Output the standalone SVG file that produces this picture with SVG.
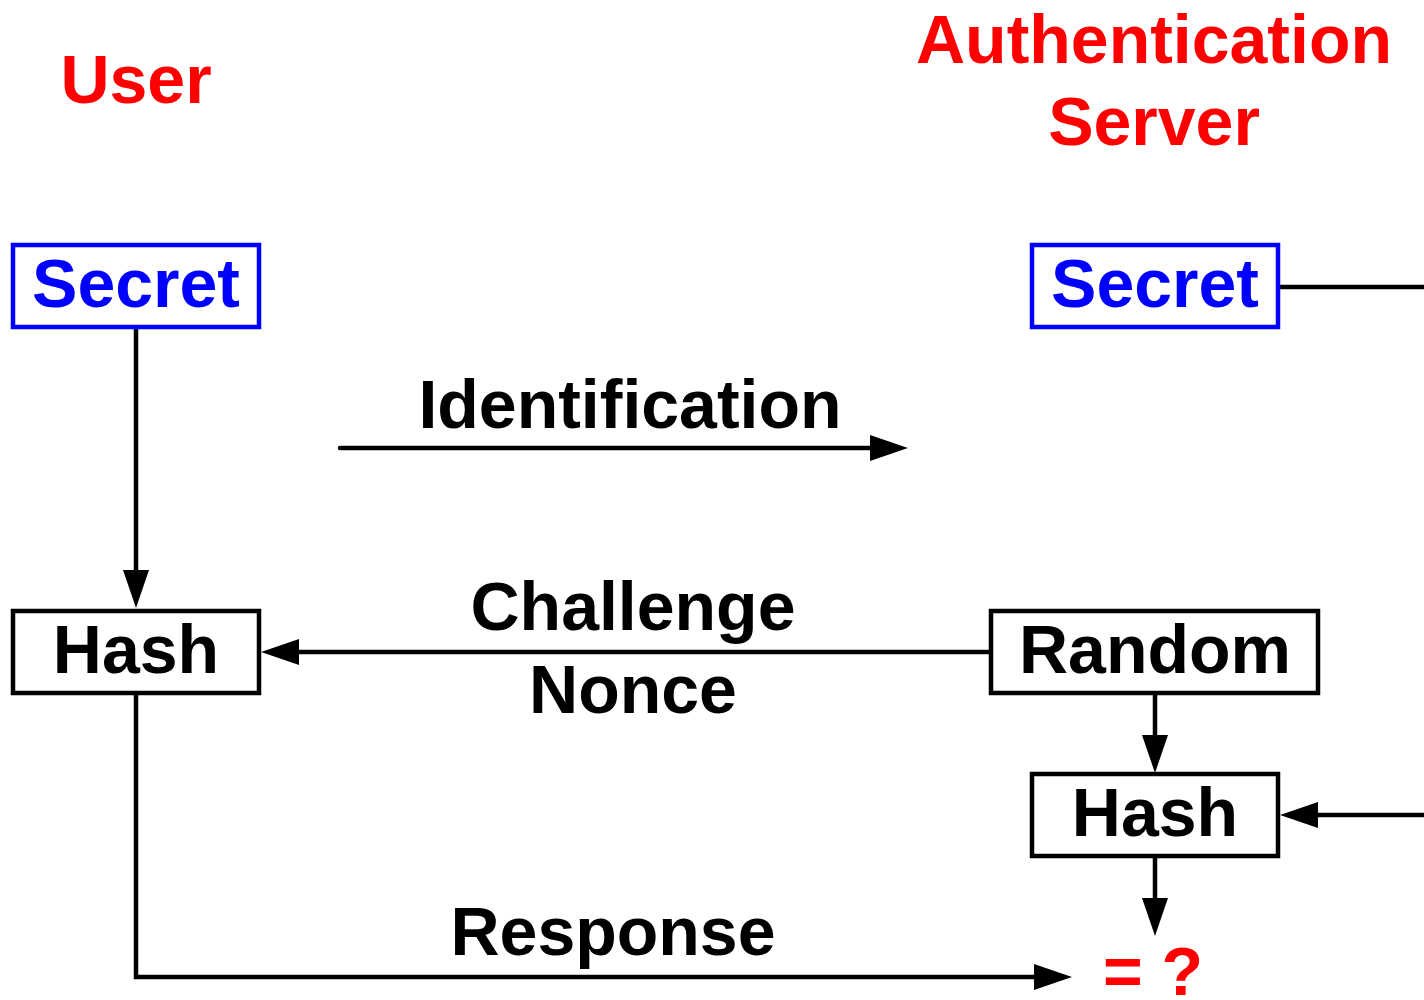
<svg xmlns="http://www.w3.org/2000/svg" width="1424" height="1000" viewBox="0 0 1424 1000">
  <style>
    text { font-family: "Liberation Sans", Arial, sans-serif; font-weight: bold; font-size: 68px; text-anchor: middle; }
    .title { fill: #ff0000; }
    .secret rect { fill: #ffffff; stroke: #0000ff; stroke-width: 4.5; }
    .secret text { fill: #0000ff; }
    .box rect { fill: #ffffff; stroke: #000000; stroke-width: 4.5; }
    .box text { fill: #000000; }
    .label { fill: #000000; }
    .wire { fill: none; stroke: #000000; stroke-width: 4.5; stroke-linecap: butt; stroke-linejoin: miter; }
    .wire.start-round { stroke-linecap: round; }
  </style>
  <defs>
    <marker id="arrow" viewBox="0 0 38 26" refX="38" refY="13" markerWidth="38" markerHeight="26" markerUnits="userSpaceOnUse" orient="auto">
      <path d="M0,0 L38,13 L0,26 Z" fill="#000000"/>
    </marker>
  </defs>

  <rect width="1424" height="1000" fill="#ffffff"/>

  <!-- party headings -->
  <text class="title" x="136" y="103">User</text>
  <text class="title" x="1154" y="63">Authentication</text>
  <text class="title" x="1154" y="145">Server</text>

  <!-- connectors: shafts stop short of the tip, the marker closes the gap -->
  <g id="connectors">
    <path class="wire" d="M136,327 V590" />
    <path class="wire start-round" d="M340,448 H890" />
    <path class="wire" d="M990,652 H280" />
    <path class="wire" d="M1278,287 H1424"/>
    <path class="wire" d="M1155,693 V755" />
    <path class="wire" d="M1424,815 H1298" />
    <path class="wire" d="M1155,856 V918" />
    <path class="wire" d="M136,693 V977 H1055" />
    <g fill="#000000">
      <path d="M123,570 L136,608 L149,570 Z"/>
      <path d="M870,435 L908,448 L870,461 Z"/>
      <path d="M299,639 L261,652 L299,665 Z"/>
      <path d="M1142,735 L1155,773 L1168,735 Z"/>
      <path d="M1318,802 L1280,815 L1318,828 Z"/>
      <path d="M1142,898 L1155,936 L1168,898 Z"/>
      <path d="M1034,964 L1072,977 L1034,990 Z"/>
    </g>
  </g>

  <!-- connector labels -->
  <text class="label" x="630" y="428">Identification</text>
  <text class="label" x="633" y="630">Challenge</text>
  <text class="label" x="633" y="713">Nonce</text>
  <text class="label" x="613" y="955">Response</text>

  <!-- nodes -->
  <g id="user-secret" class="secret">
    <rect x="13" y="245" width="246" height="82"/>
    <text x="136" y="307">Secret</text>
  </g>
  <g id="server-secret" class="secret">
    <rect x="1032" y="245" width="246" height="82"/>
    <text x="1155" y="307">Secret</text>
  </g>
  <g id="user-hash" class="box">
    <rect x="13" y="611" width="246" height="82"/>
    <text x="136" y="673">Hash</text>
  </g>
  <g id="server-random" class="box">
    <rect x="991" y="611" width="327" height="82"/>
    <text x="1155" y="673">Random</text>
  </g>
  <g id="server-hash" class="box">
    <rect x="1032" y="774" width="246" height="82"/>
    <text x="1155" y="836">Hash</text>
  </g>
  <g id="compare">
    <text class="title" x="1153" y="995">= ?</text>
  </g>
</svg>
